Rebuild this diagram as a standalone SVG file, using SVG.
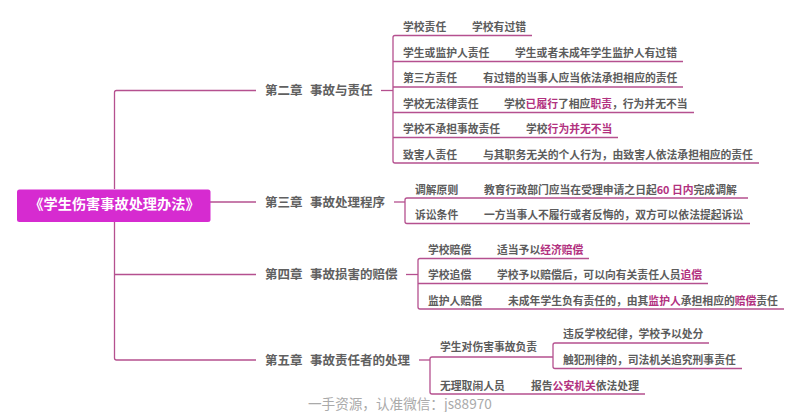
<svg xmlns="http://www.w3.org/2000/svg" width="800" height="412" viewBox="0 0 800 412">
<style>
text{font-family:"Noto Sans CJK SC","Noto Sans",sans-serif;fill:#5c5c5c;font-size:10.8px;font-weight:700}
.l1{font-size:12.5px;font-weight:700;fill:#606060}
.root{font-size:14.2px;font-weight:700;fill:#fff;text-anchor:middle}
.a{fill:#b2317f;font-weight:700}
.wm{font-size:13.6px;font-weight:400;fill:#aaa}
#connectors path{fill:none;stroke:#b5508f;stroke-width:1.3}
</style>
<g id="connectors">
<path d="M114.500 189V92.500Q114.500 90.500 116.500 90.500H256"/>
<path d="M210 202H256"/>
<path d="M114.500 222V358Q114.500 360 116.500 360H256"/>
<path d="M114.500 274.500H256"/>
<path d="M381 90.500H393"/>
<path d="M532 35.500H395Q393 35.500 393 37.500V161Q393 163 395 163H759"/>
<path d="M393 61.500H683M393 87H683M393 112.500H694M393 137.500H618"/>
<path d="M394 202H405"/>
<path d="M748 198H407Q405 198 405 200V221.500Q405 223.500 407 223.500H750"/>
<path d="M406 274.500H418"/>
<path d="M589 258.500H420Q418 258.500 418 260.500V307Q418 309 420 309H784"/>
<path d="M418 283.500H708"/>
<path d="M419 360H430"/>
<path d="M553 357H432Q430 357 430 359V392Q430 394 432 394H645"/>
<path d="M709 343H555Q553 343 553 345V366.500Q553 368.500 555 368.500H742"/>
</g>
<g id="root"><rect x="17" y="189.500" width="193.500" height="32.500" rx="2.500" fill="#d62bd0"/><text class="root" x="114.500" y="208.500">《学生伤害事故处理办法》</text></g>
<g id="ch2"><text class="l1" x="265" y="95">第二章</text><text class="l1" x="310" y="95">事故与责任</text></g>
<g id="ch3"><text class="l1" x="265" y="206.500">第三章</text><text class="l1" x="310" y="206.500">事故处理程序</text></g>
<g id="ch4"><text class="l1" x="265" y="279">第四章</text><text class="l1" x="310" y="279">事故损害的赔偿</text></g>
<g id="ch5"><text class="l1" x="265" y="364.500">第五章</text><text class="l1" x="310" y="364.500">事故责任者的处理</text></g>
<g id="n21"><text x="403" y="31">学校责任</text><text x="472" y="31">学校有过错</text></g>
<g id="n22"><text x="403" y="56.500">学生或监护人责任</text><text x="515" y="56.500">学生或者未成年学生监护人有过错</text></g>
<g id="n23"><text x="403" y="82">第三方责任</text><text x="483" y="82">有过错的当事人应当依法承担相应的责任</text></g>
<g id="n24"><text x="403" y="107.500">学校无法律责任</text><text x="504" y="107.500">学校<tspan class="a">已履行</tspan>了相应<tspan class="a">职责</tspan>，行为并无不当</text></g>
<g id="n25"><text x="403" y="133">学校不承担事故责任</text><text x="526" y="133">学校<tspan class="a">行为并无不当</tspan></text></g>
<g id="n26"><text x="403" y="158.500">致害人责任</text><text x="483" y="158.500">与其职务无关的个人行为，由致害人依法承担相应的责任</text></g>
<g id="n31"><text x="415" y="193.500">调解原则</text><text x="484" y="193.500">教育行政部门应当在受理申请之日起<tspan class="a">60 日内</tspan>完成调解</text></g>
<g id="n32"><text x="415" y="219">诉讼条件</text><text x="484" y="219">一方当事人不履行或者反悔的，双方可以依法提起诉讼</text></g>
<g id="n41"><text x="428" y="253.500">学校赔偿</text><text x="497" y="253.500">适当予以<tspan class="a">经济赔偿</tspan></text></g>
<g id="n42"><text x="428" y="279">学校追偿</text><text x="497" y="279">学校予以赔偿后，可以向有关责任人员<tspan class="a">追偿</tspan></text></g>
<g id="n43"><text x="428" y="304.500">监护人赔偿</text><text x="508" y="304.500">未成年学生负有责任的，由其<tspan class="a">监护人</tspan>承担相应的<tspan class="a">赔偿</tspan>责任</text></g>
<g id="n51"><text x="440" y="351">学生对伤害事故负责</text></g>
<g id="n511"><text x="563" y="338">违反学校纪律，学校予以处分</text></g>
<g id="n512"><text x="563" y="364">触犯刑律的，司法机关追究刑事责任</text></g>
<g id="n52"><text x="440" y="389.500">无理取闹人员</text><text x="531" y="389.500">报告<tspan class="a">公安机关</tspan>依法处理</text></g>
<text class="wm" x="308" y="409">一手资源，认准微信：js88970</text>
</svg>
